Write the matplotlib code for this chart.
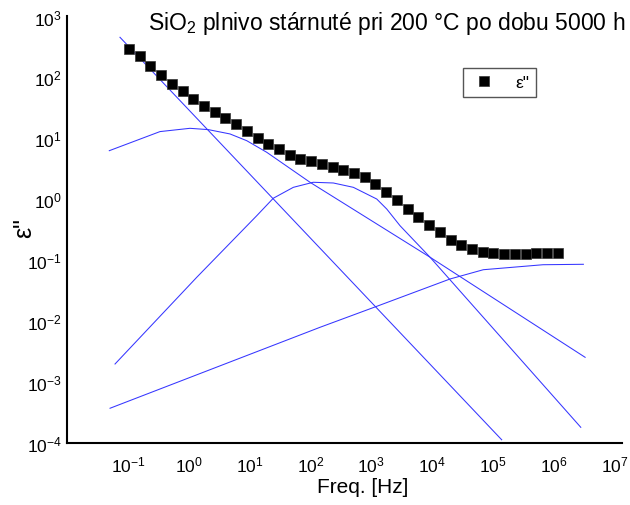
import numpy as np
import matplotlib
matplotlib.use('Agg')
import matplotlib.pyplot as plt

plt.rcParams['font.family'] = ['Liberation Sans', 'DejaVu Sans']
plt.rcParams['mathtext.fontset'] = 'custom'
plt.rcParams['mathtext.rm'] = 'Liberation Sans'
plt.rcParams['mathtext.it'] = 'Liberation Sans:italic'

# measured loss factor (black squares)
freq = [0.1035, 0.1553, 0.2331, 0.3499, 0.5252, 0.7883, 1.183, 1.775, 2.664, 3.998,
        6.000, 9.00, 13.51, 20.27, 30.42, 45.66, 68.5, 102.8, 154.3, 231.6,
        347.5, 521.6, 782.8, 1175, 1763, 2646, 3971, 5960, 8945, 13425,
        20140, 30230, 45370, 68090, 102100, 153300, 230000, 345200, 518100, 777600,
        1167000]
eps2 = [293, 228, 156, 111, 79, 59, 45, 34, 27.3, 21.7,
        16.9, 13.1, 10.3, 8.0, 6.7, 5.4, 4.65, 4.25, 3.76, 3.36,
        3.03, 2.67, 2.28, 1.77, 1.31, 0.98, 0.70, 0.505, 0.373, 0.287,
        0.217, 0.180, 0.152, 0.136, 0.129, 0.126, 0.126, 0.127, 0.129, 0.132,
        0.132]

# fitted components (blue lines)
cond_f = [0.0736, 1.40e5]
cond_e = [455, 1.13e-4]

peak1_f = [0.0491, 0.335, 1.04, 2.09, 4.75, 8.95, 19.1, 98.4, 9270, 3.30e6]
peak1_e = [6.27, 12.9, 14.6, 13.9, 11.8, 9.15, 5.90, 1.90, 0.112, 2.55e-3]

peak2_f = [0.061, 1.35, 13.1, 24.5, 52.3, 111, 238, 508, 1231, 1799, 2978, 9270, 2.80e6]
peak2_e = [1.98e-3, 0.0525, 0.538, 1.04, 1.57, 1.90, 1.85, 1.57, 1.01, 0.692, 0.368, 0.112, 1.81e-4]

peak3_f = [0.0505, 144, 1231, 19800, 69800, 671000, 3.09e6]
peak3_e = [3.72e-4, 7.93e-3, 0.0175, 0.0492, 0.0698, 0.0843, 0.0857]

fig = plt.figure(figsize=(6.3, 5.06), dpi=100)
ax = fig.add_axes([0.1068, 0.1225, 0.88, 0.843])

for fx, ey in [(cond_f, cond_e), (peak1_f, peak1_e), (peak2_f, peak2_e), (peak3_f, peak3_e)]:
    ax.plot(fx, ey, color='#3535ff', lw=0.75)
ax.plot(freq, eps2, 's', color='black', ms=7.3, mec='#333333', mew=0.5,
        linestyle='none', label='ε"')

ax.set_xscale('log')
ax.set_yscale('log')
ax.set_xlim(1e-2, 10**7.12)
ax.set_ylim(1e-4, 1e3)
xt = list(range(-1, 8))
yt = list(range(-4, 4))
ax.set_xticks([10.0**k for k in xt])
ax.set_xticklabels(['10$^{%d}$' % k for k in xt])
ax.set_yticks([10.0**k for k in yt])
ax.set_yticklabels(['10$^{%d}$' % k for k in yt])
ax.minorticks_off()
ax.tick_params(length=0, labelsize=12.5)
ax.tick_params(axis='x', pad=8)
ax.tick_params(axis='y', pad=4)

for s in ['top', 'right']:
    ax.spines[s].set_visible(False)
for s in ['left', 'bottom']:
    ax.spines[s].set_linewidth(1.5)

ax.set_xlabel('Freq. [Hz]', fontsize=15, va='center')
ax.xaxis.set_label_coords(0.533, -0.103)
ax.set_ylabel('ε"', fontsize=18, va='center')
ax.yaxis.set_label_coords(-0.078, 0.506)

fig.text(0.992, 0.953, 'SiO$_2$ plnivo stárnuté pri 200 °C po dobu 5000 h',
         ha='right', va='center', fontsize=16.5)

leg = ax.legend(loc='upper left', bbox_to_anchor=(0.714, 0.88), fontsize=12.5,
                borderaxespad=0, handletextpad=1.0, borderpad=0.4,
                fancybox=False, framealpha=1, handlelength=1.6)
leg.get_frame().set_edgecolor('#555555')
leg.get_frame().set_linewidth(1.0)

fig.savefig('out.png', dpi=100)
